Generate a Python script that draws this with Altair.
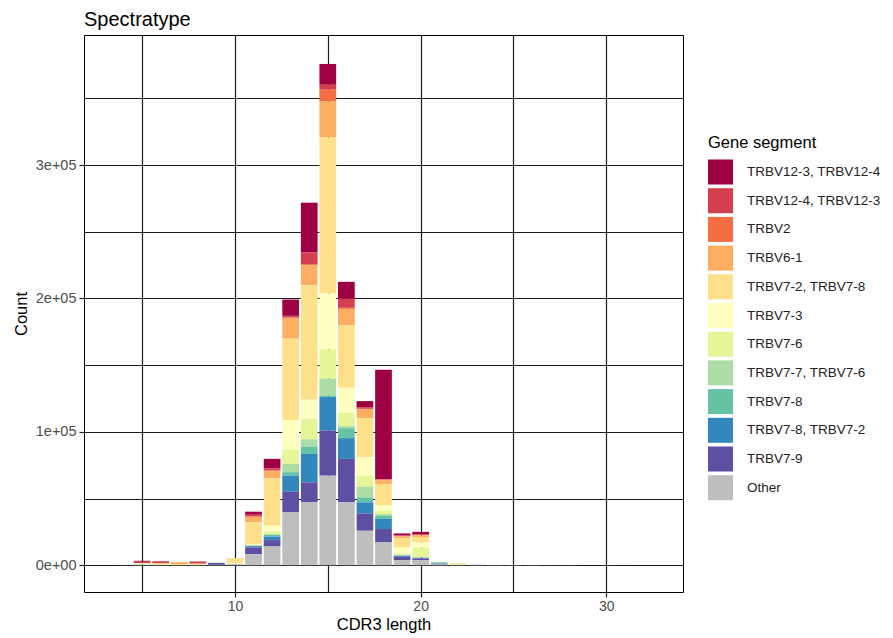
import altair as alt
import pandas as pd

FONT = "Liberation Sans"

# CDR3 lengths (x positions of the bars)
cdr3_length = [4, 5, 6, 7, 8, 9, 10, 11, 12, 13, 14, 15, 16, 17, 18, 19, 20,
               21, 22, 23, 24, 25, 26, 27, 28, 29, 30, 31, 32]

# Gene segments in legend order, and their colours
segments = ["TRBV12-3, TRBV12-4", "TRBV12-4, TRBV12-3", "TRBV2", "TRBV6-1",
            "TRBV7-2, TRBV7-8", "TRBV7-3", "TRBV7-6", "TRBV7-7, TRBV7-6",
            "TRBV7-8", "TRBV7-8, TRBV7-2", "TRBV7-9", "Other"]
seg_colors = ["#9E0142", "#D53E4F", "#F46D43", "#FDAE61", "#FEE08B", "#FFFFBF",
              "#E6F598", "#ABDDA4", "#66C2A5", "#3288BD", "#5E4FA2", "#BEBEBE"]

# Counts per CDR3 length (4..32) for each segment
trbv12_3_12_4 = [0, 700, 300, 0, 200, 0, 0, 2300, 7000, 12200, 37300, 15600, 12500, 4500, 82100, 1500, 1800,
                 0, 0, 0, 0, 0, 0, 0, 0, 0, 0, 0, 0]
trbv12_4_12_3 = [0, 1000, 1200, 0, 1400, 0, 0, 1300, 1800, 1300, 8700, 3700, 7000, 1300, 300, 500, 600,
                 0, 0, 0, 0, 0, 0, 0, 0, 0, 0, 0, 0]
trbv2 = [0, 0, 0, 0, 0, 0, 0, 400, 500, 800, 800, 8800, 800, 500, 500, 300, 300,
         0, 0, 0, 0, 0, 0, 0, 0, 0, 0, 0, 0]
trbv6_1 = [0, 0, 400, 1400, 400, 0, 0, 4000, 5300, 15000, 15000, 27000, 12300, 6500, 2700, 1200, 1200,
           0, 200, 0, 0, 0, 0, 0, 0, 0, 0, 0, 0]
trbv7_2_7_8 = [0, 0, 1000, 800, 600, 0, 4000, 16600, 35500, 60900, 85900, 117000, 46800, 29300, 15800, 7000, 4000,
               0, 900, 100, 0, 0, 0, 0, 0, 0, 0, 0, 0]
trbv7_3 = [0, 500, 0, 0, 0, 0, 500, 400, 4300, 22200, 14300, 41800, 18800, 13800, 4300, 4600, 3900,
           0, 200, 0, 0, 0, 0, 0, 0, 0, 0, 0, 0]
trbv7_6 = [0, 500, 0, 0, 0, 0, 0, 200, 2000, 10800, 15300, 22000, 10000, 8200, 2500, 1000, 7200,
           200, 0, 0, 0, 0, 0, 0, 0, 0, 0, 0, 0]
trbv7_7_7_6 = [0, 400, 0, 0, 0, 0, 0, 300, 700, 6200, 5500, 12800, 1500, 8100, 1200, 400, 400,
               400, 0, 0, 0, 0, 0, 0, 0, 0, 0, 0, 0]
trbv7_8 = [0, 0, 0, 0, 0, 0, 0, 300, 1100, 2600, 5500, 1000, 7500, 3700, 2500, 300, 200,
           700, 0, 0, 0, 0, 0, 0, 0, 0, 0, 0, 0]
trbv7_8_7_2 = [0, 0, 0, 0, 0, 200, 0, 1000, 2700, 12000, 21300, 25100, 15500, 8300, 7500, 700, 400,
               500, 0, 0, 0, 0, 0, 0, 0, 0, 0, 0, 0]
trbv7_9 = [0, 0, 0, 0, 0, 1400, 0, 5000, 4800, 15500, 15000, 33800, 32600, 13000, 10000, 2500, 1200,
           300, 0, 100, 0, 0, 0, 0, 0, 0, 0, 0, 0]
other = [50, 300, 300, 200, 300, 300, 900, 8400, 14100, 39700, 47200, 67200, 47200, 25900, 17200, 3900, 3900,
         600, 400, 300, 250, 200, 150, 100, 100, 60, 50, 30, 20]

series = [trbv12_3_12_4, trbv12_4_12_3, trbv2, trbv6_1, trbv7_2_7_8, trbv7_3,
          trbv7_6, trbv7_7_7_6, trbv7_8, trbv7_8_7_2, trbv7_9, other]

# Axis tick / grid values
x_grid = [5, 10, 15, 20, 25, 30]
y_grid = [0, 50000, 100000, 150000, 200000, 250000, 300000, 350000]

rows = []
for si, (seg, vals) in enumerate(zip(segments, series)):
    for L, v in zip(cdr3_length, vals):
        rows.append({"len": L, "segment": seg, "count": v, "stack": len(segments) - si})
df = pd.DataFrame(rows)

x_axis = alt.Axis(
    values=x_grid,
    labelExpr="datum.value % 10 === 0 ? format(datum.value, 'd') : ''",
    tickOpacity={"condition": {"test": "datum.value % 10 === 0", "value": 1}, "value": 0},
    title="CDR3 length",
    titlePadding=3,
    labelFontSize=14,
)
y_axis = alt.Axis(
    values=y_grid,
    labelExpr="datum.value % 100000 === 0 ? (datum.value === 0 ? '0e+00' : format(datum.value / 100000, 'd') + 'e+05') : ''",
    tickOpacity={"condition": {"test": "datum.value % 100000 === 0", "value": 1}, "value": 0},
    title="Count",
    titlePadding=6,
    labelFontSize=14.5,
    labelPadding=3,
)

chart = alt.Chart(df).transform_calculate(
    x0="datum.len - 0.45", x1="datum.len + 0.45"
).mark_bar(strokeWidth=0).encode(
    x=alt.X("x0:Q", scale=alt.Scale(domain=[2.14, 33.86], nice=False, zero=False), axis=x_axis),
    x2="x1:Q",
    y=alt.Y("sum(count):Q", stack="zero",
            scale=alt.Scale(domain=[-20000, 397500], nice=False, zero=False), axis=y_axis),
    color=alt.Color("segment:N", scale=alt.Scale(domain=segments, range=seg_colors),
                    legend=alt.Legend(
                        orient="none", legendX=624, legendY=100,
                        title="Gene segment", titleFontSize=16.5, titleFontWeight="normal",
                        titleColor="black", titleFont=FONT, titlePadding=8,
                        labelFont=FONT, labelFontSize=13.5, labelColor="#222222",
                        symbolType="square", symbolSize=625, symbolStrokeWidth=0,
                        symbolOpacity=1, rowPadding=3.7, labelOffset=14, padding=0,
                        labelLimit=250)),
    order=alt.Order("stack:Q", sort="ascending"),
).properties(
    width=599, height=557,
    background="white",
    autosize=alt.AutoSizeParams(type="none"),
    padding={"left": 84, "top": 35, "right": 210, "bottom": 46},
    title=alt.TitleParams("Spectratype", anchor="start", fontSize=20, font=FONT,
                          fontWeight="normal", color="black", offset=5,
                          frame="group"),
).configure_view(
    stroke="black", strokeWidth=1
).configure_axis(
    grid=True, gridColor="#1a1a1a", gridWidth=1.2, domain=False,
    tickColor="#222222", tickSize=5, tickWidth=1.2,
    labelFont=FONT, labelFontSize=13.5, labelColor="#4d4d4d", labelPadding=2,
    labelFlush=False, labelOverlap=False,
    titleFont=FONT, titleFontSize=16.5, titleFontWeight="normal", titleColor="black",
)

chart.save("out.html", embed_options={"renderer": "svg", "actions": False})
